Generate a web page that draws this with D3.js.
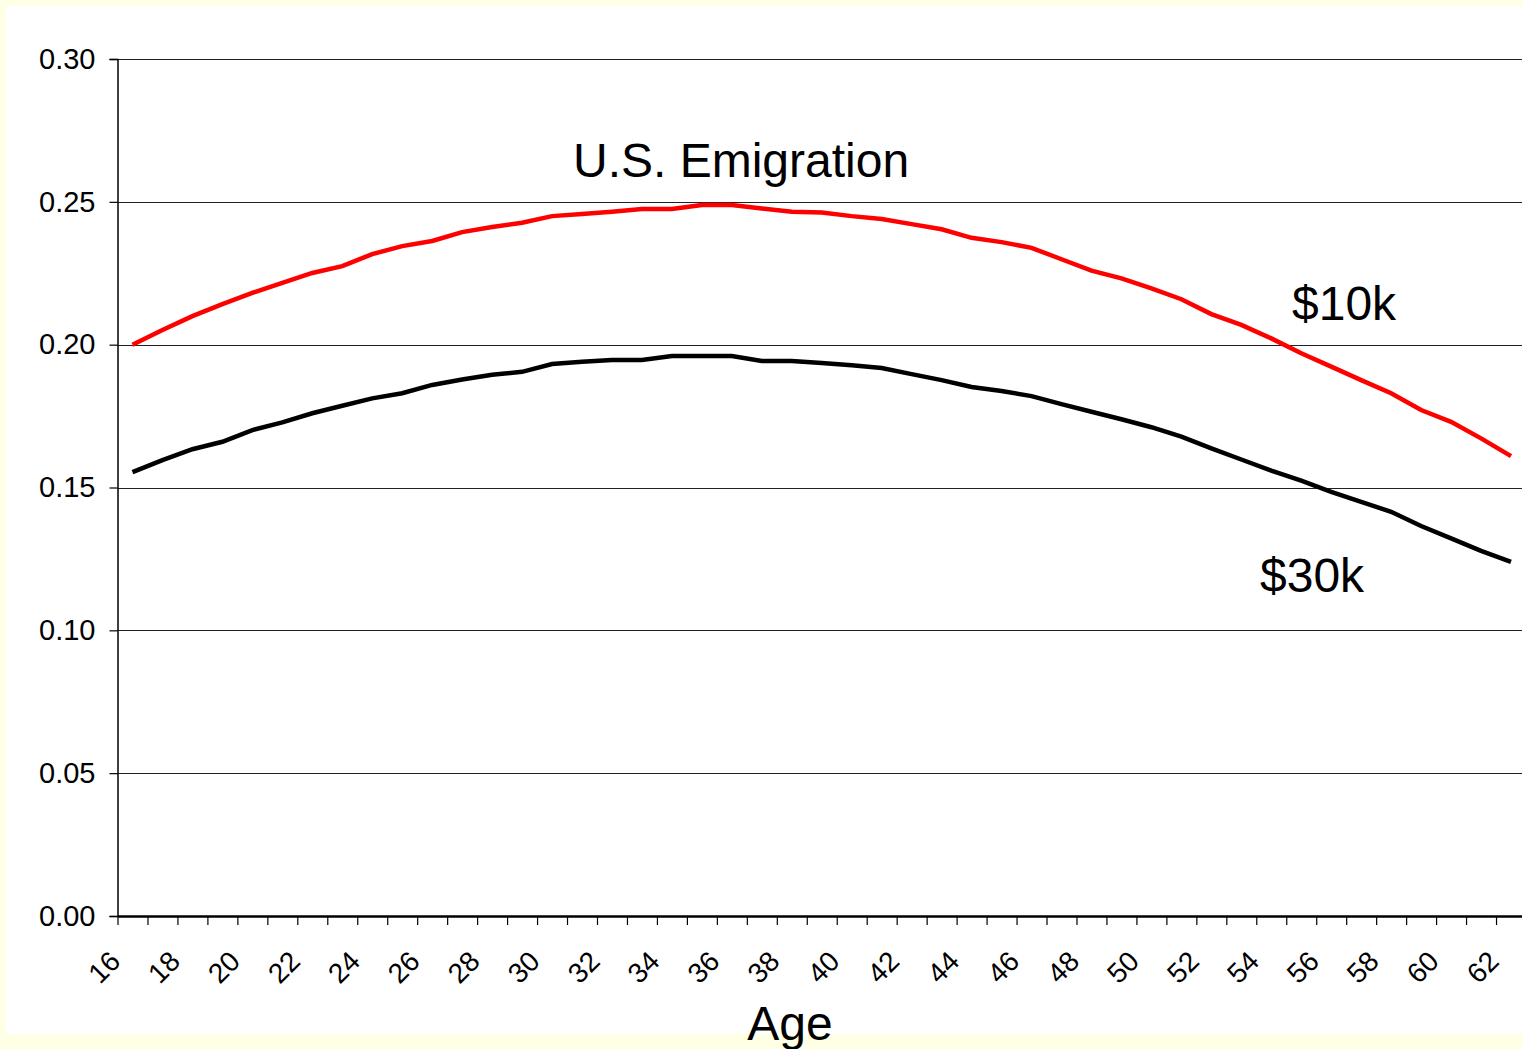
<!DOCTYPE html>
<html>
<head>
<meta charset="utf-8">
<script src="https://cdn.jsdelivr.net/npm/d3@7"></script>
<style>
  body { margin: 0; background: #ffffe6; }
  svg { display: block; font-family: "Liberation Sans", Arial, sans-serif; }
</style>
</head>
<body>
<div id="chart"></div>
<script>
// ages on the category axis
var ages = d3.range(16, 63);
var ageLabels = ages.filter((a) => a % 2 == 0);

// annual emigration probability
var low10k = [0.2000, 0.2051, 0.2100, 0.2142, 0.2181, 0.2216, 0.2251, 0.2275, 0.2317, 0.2345,
              0.2363, 0.2394, 0.2412, 0.2427, 0.2450, 0.2457, 0.2465, 0.2475, 0.2475, 0.2489,
              0.2489, 0.2477, 0.2465, 0.2463, 0.2450, 0.2440, 0.2422, 0.2404, 0.2374, 0.2359,
              0.2339, 0.2299, 0.2259, 0.2232, 0.2197, 0.2159, 0.2107, 0.2069, 0.2022, 0.1970,
              0.1923, 0.1876, 0.1830, 0.1771, 0.1730, 0.1672, 0.1610];
var high30k = [0.1554, 0.1596, 0.1634, 0.1660, 0.1701, 0.1728, 0.1760, 0.1786, 0.1812, 0.1830,
               0.1859, 0.1878, 0.1895, 0.1905, 0.1932, 0.1940, 0.1946, 0.1946, 0.1960, 0.1960,
               0.1960, 0.1943, 0.1943, 0.1936, 0.1928, 0.1918, 0.1897, 0.1876, 0.1852, 0.1838,
               0.1820, 0.1792, 0.1765, 0.1739, 0.1711, 0.1678, 0.1637, 0.1598, 0.1559, 0.1524,
               0.1485, 0.1450, 0.1415, 0.1365, 0.1322, 0.1278, 0.1240];
var yTicks = [0, 0.05, 0.10, 0.15, 0.20, 0.25, 0.30];

var width = 1522, height = 1049;
var plot = {left: 117.5, right: 1526, top: 59, bottom: 916};

const svg = d3.select("#chart").append("svg")
    .attr("width", width)
    .attr("height", height);

// white panel on the pale yellow slide
svg.append("rect")
    .attr("x", 6).attr("y", 6)
    .attr("width", width).attr("height", 1028)
    .attr("fill", "#ffffff");

// linear scale on ages so that ticks can sit between categories
const xScaler = d3.scaleLinear()
    .domain([15.5, 62.5])
    .range([plot.left, plot.right]);

const yScaler = d3.scaleLinear()
    .domain([0, 0.30])
    .range([plot.bottom, plot.top]);

// gridlines
svg.append("g")
    .selectAll("line")
    .data(yTicks.slice(1))
    .join("line")
    .attr("x1", plot.left).attr("x2", plot.right)
    .attr("y1", (d) => Math.round(yScaler(d)) + 0.5)
    .attr("y2", (d) => Math.round(yScaler(d)) + 0.5)
    .attr("stroke", "#222")
    .attr("stroke-width", 1.2);

// y axis
const yAxis = svg.append("g")
    .attr("transform", `translate(${plot.left},0)`)
    .call(d3.axisLeft(yScaler).tickValues(yTicks).tickFormat(d3.format(".2f")).tickSize(8).tickPadding(14));
yAxis.select(".domain").attr("stroke", "#000").attr("stroke-width", 1.5);
yAxis.selectAll(".tick line").attr("stroke", "#000").attr("stroke-width", 1.2);
yAxis.selectAll("text")
    .attr("font-size", 29)
    .attr("fill", "#000")
    .style("font-family", "Liberation Sans, Arial, sans-serif");

// x axis ticks at category boundaries
const edges = d3.range(15.5, 63, 1);
const xAxis = svg.append("g")
    .attr("transform", `translate(0,${plot.bottom})`)
    .call(d3.axisBottom(xScaler).tickValues(edges).tickFormat("").tickSize(9).tickSizeOuter(0));
xAxis.select(".domain").attr("stroke", "#000").attr("stroke-width", 2.5);
xAxis.selectAll(".tick line").attr("stroke", "#000").attr("stroke-width", 1.2);

// rotated age labels
const xLabels = svg.append("g")
    .attr("transform", `translate(0,${plot.bottom})`)
    .call(d3.axisBottom(xScaler).tickValues(ageLabels).tickSize(0));
xLabels.select(".domain").remove();
xLabels.selectAll("text")
    .attr("font-size", 28)
    .attr("fill", "#000")
    .style("font-family", "Liberation Sans, Arial, sans-serif")
    .attr("text-anchor", "end")
    .attr("y", 0)
    .attr("dy", "0.35em")
    .attr("transform", "translate(-18,40) rotate(-45)");

// series lines
const lineGenerator = (values) => d3.line()
    .x((d, i) => xScaler(ages[i]))
    .y((d) => yScaler(d))(values);

svg.append("path")
    .attr("d", lineGenerator(high30k))
    .attr("fill", "none")
    .attr("stroke", "#000000")
    .attr("stroke-width", 4.5);

svg.append("path")
    .attr("d", lineGenerator(low10k))
    .attr("fill", "none")
    .attr("stroke", "#ff0000")
    .attr("stroke-width", 4.5);

// annotations
const note = (txt, x, y, anchor) => svg.append("text")
    .attr("x", x).attr("y", y)
    .attr("text-anchor", anchor || "start")
    .attr("font-size", 48)
    .attr("fill", "#000")
    .text(txt);

note("U.S. Emigration", 573, 177);
note("$10k", 1292, 320);
note("$30k", 1260, 592);
note("Age", 790, 1040, "middle");
</script>
</body>
</html>
